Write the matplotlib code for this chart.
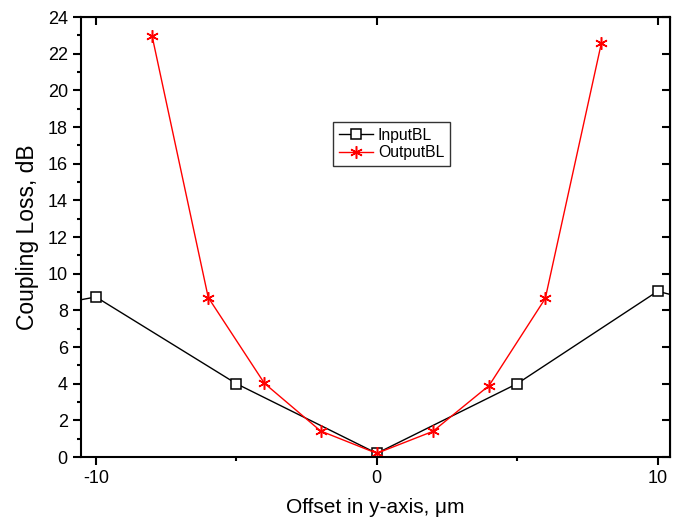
import numpy as np
import matplotlib.pyplot as plt
from matplotlib.ticker import MultipleLocator

plt.rcParams['font.family'] = ['Liberation Sans', 'DejaVu Sans']
plt.rcParams['axes.unicode_minus'] = False

# InputBL (outer points at +-15 fall outside the visible range)
x_in = [-15, -10, -5, 0, 5, 10, 15]
y_in = [7.3, 8.73, 4.0, 0.2, 4.0, 9.04, 7.1]
# OutputBL
x_out = [-8, -6, -4, -2, 0, 2, 4, 6, 8]
y_out = [22.97, 8.7, 4.02, 1.42, 0.2, 1.4, 3.9, 8.65, 22.6]

fig = plt.figure(figsize=(6.79, 5.27), dpi=100)
ax = fig.add_axes([81 / 679, 1 - 457 / 527, 589 / 679, 440 / 527])
ax.plot(x_in, y_in, c='k', lw=1, marker='s', ms=7, mfc='white', mec='k', mew=1.1,
        label='InputBL')
ax.plot(x_out, y_out, c='red', lw=1, marker=(6, 2, 0), ms=9, mec='red', mew=1.1,
        label='OutputBL')
ax.set_xlim([-10.53, 10.44])
ax.set_ylim([0, 24])
ax.set_xticks([-10, 0, 10])
ax.xaxis.set_minor_locator(MultipleLocator(5))
ax.yaxis.set_major_locator(MultipleLocator(2))
ax.yaxis.set_minor_locator(MultipleLocator(1))
ax.tick_params(axis='both', which='major', labelsize=13, width=1.5, length=6, direction='out')
ax.tick_params(axis='both', which='minor', width=1.5, length=3, direction='out')
for s in ax.spines.values():
    s.set_linewidth(1.5)
# inward ticks on top and right
ax2 = ax.secondary_xaxis('top')
ax2.set_xticks([-10, 0, 10])
ax2.tick_params(direction='in', length=6, width=1.5, labeltop=False)
ax3 = ax.secondary_yaxis('right')
ax3.yaxis.set_major_locator(MultipleLocator(2))
ax3.tick_params(direction='in', length=6, width=1.5, labelright=False)
ax.set_xlabel('Offset in y-axis, μm', fontsize=15, labelpad=8)
ax.set_ylabel('Coupling Loss, dB', fontsize=16.5, labelpad=6)
leg = ax.legend(loc='upper left', bbox_to_anchor=(0.428, 0.761), fontsize=11.3, frameon=True,
                fancybox=False, edgecolor='k', handlelength=2.2, borderpad=0.35,
                labelspacing=0.15, handletextpad=0.3, borderaxespad=0)
leg.get_frame().set_linewidth(1)
plt.savefig('out.png')
